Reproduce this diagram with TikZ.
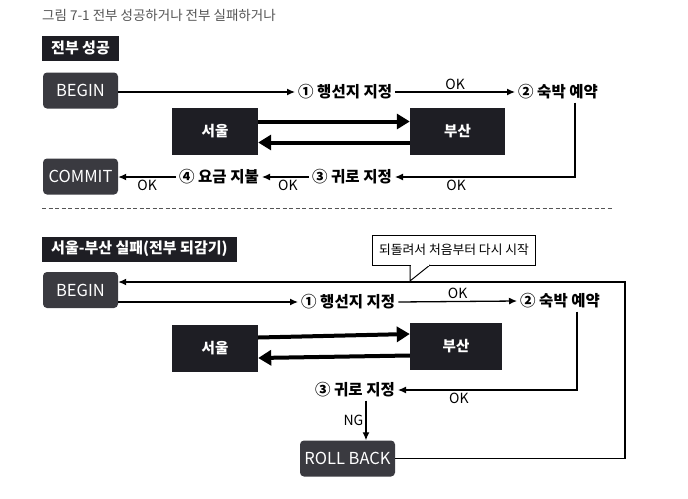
\documentclass[tikz,border=0pt]{standalone}
\usepackage{fontspec}
\setmainfont{Noto Sans CJK KR}
\usepackage{xcolor}
\usetikzlibrary{arrows.meta,calc,positioning}
\definecolor{termgray}{HTML}{3A3A40}
\definecolor{cityblack}{HTML}{1E1E24}
\definecolor{titlegray}{HTML}{555555}
\tikzset{
  termbox/.style={fill=termgray, rounded corners=4pt, minimum width=75pt, minimum height=36pt,
    text=white, font=\fontsize{16.5}{16.5}\selectfont},
  citybox/.style={fill=cityblack, minimum height=47pt, text=white,
    font=\bfseries\fontsize{14.5}{14.5}\selectfont},
  headbox/.style={fill=cityblack, text=white, inner xsep=9pt, minimum height=25pt,
    font=\bfseries\fontsize{15}{15}\selectfont},
  stage/.style={font=\bfseries\fontsize{15.5}{15.5}\selectfont, inner sep=3pt},
  oklabel/.style={font=\fontsize{14}{14}\selectfont, inner sep=2pt},
  arr/.style={-{Latex[length=8pt,width=7pt]}, line width=1.3pt},
  bigarr/.style={-{Triangle[length=13pt,width=15pt]}, line width=4pt}
}
\begin{document}
\begin{tikzpicture}[x=1pt,y=-1pt]
  \useasboundingbox[fill=white] (0,0) rectangle (688,498);
  % 제목
  \node[anchor=west, text=titlegray, font=\fontsize{13.5}{13.5}\selectfont, inner sep=0pt] (title) at (42,15) {그림 7-1 전부 성공하거나 전부 실패하거나};

  % 전부 성공
  \node[headbox, anchor=west] (head1) at (42,48) {전부 성공};
  \node[termbox] (begin1) at (80.5,90.5) {BEGIN};
  \node[termbox] (commit) at (80.5,176.5) {COMMIT};
  \node[citybox, minimum width=86pt] (seoul1) at (215,131.5) {서울};
  \node[citybox, minimum width=95pt] (busan1) at (457.5,131.5) {부산};
  \node[stage, anchor=west] (s1a) at (295,92) {① 행선지 지정};
  \node[stage, anchor=west] (s2a) at (515,92) {② 숙박 예약};
  \node[stage, anchor=east] (s3a) at (395,177) {③ 귀로 지정};
  \node[stage, anchor=east] (s4a) at (262,177) {④ 요금 지불};

  \draw[arr] (begin1.east |- s1a.west) -- (s1a.west);
  \draw[arr] (s1a.east) -- node[oklabel, above] {OK} (s2a.west);
  \draw[arr] ([xshift=17pt]s2a.south) |- node[oklabel, below, pos=0.83] {OK} (s3a.east);
  \draw[arr] (s3a.west) -- node[oklabel, below, pos=0.45] {OK} (s4a.east);
  \draw[arr] (s4a.west) -- node[oklabel, below] {OK} (commit.east |- s4a.west);
  \draw[bigarr] ([yshift=10pt]seoul1.east) -- ([yshift=10pt]busan1.west);
  \draw[bigarr] ([yshift=-11pt]busan1.west) -- ([yshift=-11pt]seoul1.east);

  % 구분선
  \draw[titlegray, line width=1pt, dash pattern=on 4pt off 2.5pt] (42,208) -- (612,208);

  % 서울-부산 실패
  \node[headbox, anchor=west] (head2) at (42,249) {서울-부산 실패(전부 되감기)};
  \node[termbox] (begin2) at (80.5,290) {BEGIN};
  \node[termbox, minimum width=95pt] (rollback) at (347.5,458.5) {ROLL BACK};
  \node[citybox, minimum width=86pt] (seoul2) at (215,348.5) {서울};
  \node[citybox, minimum width=92pt] (busan2) at (456,346) {부산};
  \node[stage, anchor=west] (s1b) at (298,302) {① 행선지 지정};
  \node[stage, anchor=west] (s2b) at (517,301) {② 숙박 예약};
  \node[stage, anchor=east] (s3b) at (398,390) {③ 귀로 지정};
  \node[draw, line width=1pt, fill=white, inner xsep=7pt, minimum height=30pt,
    font=\fontsize{12.8}{12.8}\selectfont] (note) at (454,250) {되돌려서 처음부터 다시 시작};
  \coordinate (loop) at (625,282);

  \draw[arr] (begin2.east |- s1b.west) -- (s1b.west);
  \draw[arr] (s1b.east) -- node[oklabel, above] {OK} (s2b.west);
  \draw[arr] ([xshift=17pt]s2b.south) |- node[oklabel, below, pos=0.83] {OK} (s3b.east);
  \draw[arr] ([xshift=11pt]s3b.south) coordinate (ngtop) -- node[oklabel, left] {NG} (ngtop |- rollback.north);
  \draw[arr] (rollback.east) -| (loop) -- (begin2.east |- loop);
  \draw[bigarr] ([yshift=11pt]seoul2.east) -- ([yshift=12pt]busan2.west);
  \draw[bigarr] ([yshift=-9.5pt]busan2.west) -- ([yshift=-9.5pt]seoul2.east);

  % 말풍선 꼬리
  \fill[white] ([xshift=-42pt]note.south) -- (410,281) -- ([xshift=-24pt]note.south) -- cycle;
  \draw[line width=1pt] ([xshift=-44pt,yshift=0.5pt]note.south) -- (410,281) -- ([xshift=-24pt,yshift=0.5pt]note.south);
  \draw[white, line width=1.4pt] ([xshift=-43pt]note.south) -- ([xshift=-25pt]note.south);
\end{tikzpicture}
\end{document}
